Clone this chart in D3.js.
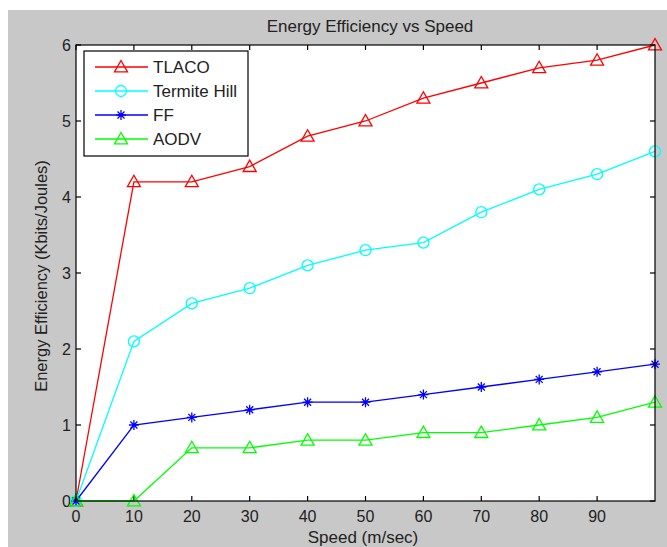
<!DOCTYPE html>
<html>
<head>
<meta charset="utf-8">
<script src="https://cdn.jsdelivr.net/npm/d3@7"></script>
<style>
  body { margin: 0; background: #fff; }
  text { font-family: "Liberation Sans", Arial, sans-serif; fill: #222; }
</style>
</head>
<body>
<div id="chart"></div>
<script>
const speeds = [0, 10, 20, 30, 40, 50, 60, 70, 80, 90, 100];
const tlaco = [0, 4.2, 4.2, 4.4, 4.8, 5.0, 5.3, 5.5, 5.7, 5.8, 6.0];
const termiteHill = [0, 2.1, 2.6, 2.8, 3.1, 3.3, 3.4, 3.8, 4.1, 4.3, 4.6];
const ff = [0, 1.0, 1.1, 1.2, 1.3, 1.3, 1.4, 1.5, 1.6, 1.7, 1.8];
const aodv = [0, 0, 0.7, 0.7, 0.8, 0.8, 0.9, 0.9, 1.0, 1.1, 1.3];
const xTicks = [0, 10, 20, 30, 40, 50, 60, 70, 80, 90];
const yTicks = [0, 1, 2, 3, 4, 5, 6];

const seriesList = [
  {name: 'TLACO', values: tlaco, color: '#ff0000', marker: 'triangle'},
  {name: 'Termite Hill', values: termiteHill, color: '#00ffff', marker: 'circle'},
  {name: 'FF', values: ff, color: '#0000ff', marker: 'star'},
  {name: 'AODV', values: aodv, color: '#00ff00', marker: 'triangle'},
];

const width = 667, height = 547;
const margin = {left: 76, right: 12, top: 45, bottom: 46};

const svg = d3.select('#chart').append('svg')
  .attr('width', width).attr('height', height);

// grey figure background
svg.append('rect').attr('x', 8).attr('y', 10)
  .attr('width', width - 8).attr('height', height - 10).attr('fill', '#c8c8c8');

const x = d3.scaleLinear().domain([0, 100]).range([margin.left, width - margin.right]);
const y = d3.scaleLinear().domain([0, 6]).range([height - margin.bottom, margin.top]);

const x0 = x.range()[0], x1 = x.range()[1], y0 = y.range()[0], y1 = y.range()[1];

svg.append('rect').attr('x', x0).attr('y', y1)
  .attr('width', x1 - x0).attr('height', y0 - y1).attr('fill', '#fff');

// axes with inward ticks, box style
const tk = 5;
const axisG = svg.append('g').attr('stroke', '#000').attr('stroke-width', 1.2);
xTicks.forEach(t => {
  axisG.append('line').attr('x1', x(t)).attr('x2', x(t)).attr('y1', y0).attr('y2', y0 - tk);
  axisG.append('line').attr('x1', x(t)).attr('x2', x(t)).attr('y1', y1).attr('y2', y1 + tk);
});
yTicks.forEach(t => {
  axisG.append('line').attr('x1', x0).attr('x2', x0 + tk).attr('y1', y(t)).attr('y2', y(t));
  axisG.append('line').attr('x1', x1).attr('x2', x1 - tk).attr('y1', y(t)).attr('y2', y(t));
});

svg.append('g').selectAll('text').data(xTicks).join('text')
  .attr('x', d => x(d)).attr('y', y0 + 21).attr('text-anchor', 'middle')
  .attr('font-size', 16).text(d => d);
svg.append('g').selectAll('text').data(yTicks).join('text')
  .attr('x', x0 - 5).attr('y', d => y(d) + 6).attr('text-anchor', 'end')
  .attr('font-size', 16).text(d => d);

// series
const line = d3.line().x((d, i) => x(speeds[i])).y(d => y(d));

function drawMarker(g, kind, cx, cy, color) {
  if (kind === 'triangle') {
    const s = 6.5;
    g.append('path')
      .attr('d', `M${cx},${cy - s}L${cx + s},${cy + s * 0.75}L${cx - s},${cy + s * 0.75}Z`)
      .attr('fill', 'none').attr('stroke', color).attr('stroke-width', 1.3);
  } else if (kind === 'circle') {
    g.append('circle').attr('cx', cx).attr('cy', cy).attr('r', 5.5)
      .attr('fill', 'none').attr('stroke', color).attr('stroke-width', 1.3);
  } else {
    const s = 5;
    g.append('path')
      .attr('d', `M${cx - s},${cy}H${cx + s}M${cx},${cy - s}V${cy + s}` +
        `M${cx - s * 0.7},${cy - s * 0.7}L${cx + s * 0.7},${cy + s * 0.7}` +
        `M${cx - s * 0.7},${cy + s * 0.7}L${cx + s * 0.7},${cy - s * 0.7}`)
      .attr('stroke', color).attr('stroke-width', 1.3);
  }
}

seriesList.forEach(s => {
  const g = svg.append('g');
  g.append('path').attr('d', line(s.values)).attr('fill', 'none')
    .attr('stroke', s.color).attr('stroke-width', 1.3);
  s.values.forEach((v, i) => drawMarker(g, s.marker, x(speeds[i]), y(v), s.color));
});

// box outline
svg.append('rect').attr('x', x0).attr('y', y1)
  .attr('width', x1 - x0).attr('height', y0 - y1)
  .attr('fill', 'none').attr('stroke', '#000').attr('stroke-width', 1.2);

// legend
const lg = svg.append('g');
lg.append('rect').attr('x', 84).attr('y', 51).attr('width', 164).attr('height', 105)
  .attr('fill', '#fff').attr('stroke', '#000').attr('stroke-width', 1.2);
seriesList.forEach((s, i) => {
  const ly = 67 + i * 24;
  lg.append('line').attr('x1', 95).attr('x2', 148).attr('y1', ly).attr('y2', ly)
    .attr('stroke', s.color).attr('stroke-width', 1.3);
  drawMarker(lg, s.marker, 121, ly, s.color);
  lg.append('text').attr('x', 153).attr('y', ly + 6).attr('font-size', 17).text(s.name);
});

// titles
svg.append('text').attr('x', 370).attr('y', 32).attr('text-anchor', 'middle')
  .attr('font-size', 17).text('Energy Efficiency vs Speed');
svg.append('text').attr('x', 363).attr('y', 543).attr('text-anchor', 'middle')
  .attr('font-size', 17).text('Speed (m/sec)');
svg.append('text').attr('transform', `translate(47,276) rotate(-90)`)
  .attr('text-anchor', 'middle').attr('font-size', 16.5).text('Energy Efficiency (Kbits/Joules)');
</script>
</body>
</html>
